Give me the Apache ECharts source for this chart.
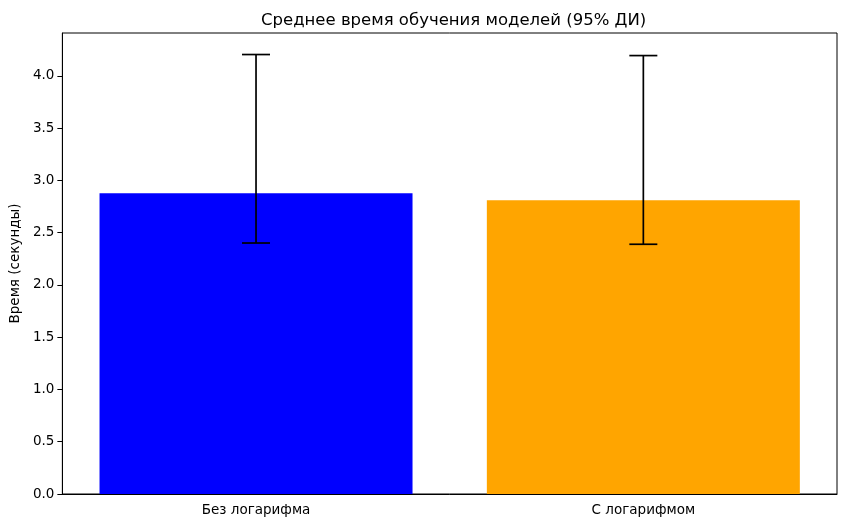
<!DOCTYPE html>
<html>
<head>
<meta charset="utf-8">
<script src="https://cdn.jsdelivr.net/npm/echarts@6/dist/echarts.min.js"></script>
<style>
  html, body { margin: 0; padding: 0; background: #fff; }
  #chart { width: 846px; height: 528px; }
</style>
</head>
<body>
<div id="chart"></div>
<script>
// data
var categories = ['Без логарифма', 'С логарифмом'];
var meanTime = [2.876, 2.809];
var ciLow = [2.401, 2.389];
var ciHigh = [4.204, 4.194];
var barColors = ['#0000ff', '#ffa500'];
var yTicks = [0, 0.5, 1.0, 1.5, 2.0, 2.5, 3.0, 3.5, 4.0];

var font = 'DejaVu Sans';
var myChart = echarts.init(document.getElementById('chart'), null, {renderer: 'canvas'});

var errData = [];
for (var i = 0; i < categories.length; i++) {
    errData.push([i, ciLow[i], ciHigh[i]]);
}

var option = {
    animation: false,
    backgroundColor: '#fff',
    title: {
        // centred over the plot area, not the whole canvas
        text: 'Среднее время обучения моделей (95% ДИ)',
        left: 256,
        top: 7,
        textStyle: {fontFamily: font, fontSize: 16.5, fontWeight: 'normal', color: '#000'}
    },
    grid: {
        left: 61, right: 9, top: 33, bottom: 34,
        show: true, borderColor: '#000', borderWidth: 1, backgroundColor: 'transparent'
    },
    xAxis: {
        type: 'category',
        data: categories,
        axisLine: {lineStyle: {color: '#000', width: 1}},
        axisTick: {alignWithLabel: true, length: 5, lineStyle: {color: '#000'}},
        axisLabel: {fontFamily: font, fontSize: 13.5, color: '#000', margin: 9}
    },
    yAxis: {
        type: 'value',
        min: 0,
        max: 4.41,
        name: 'Время (секунды)',
        nameLocation: 'middle',
        nameGap: 37,
        nameTextStyle: {fontFamily: font, fontSize: 13.5, color: '#000'},
        splitLine: {show: false},
        axisLine: {show: true, lineStyle: {color: '#000', width: 1}},
        axisTick: {show: true, length: 5, customValues: yTicks, lineStyle: {color: '#000'}},
        axisLabel: {
            fontFamily: font, fontSize: 13.5, color: '#000', margin: 8,
            customValues: yTicks,
            formatter: function (v) { return v.toFixed(1); }
        }
    },
    series: [
        {
            type: 'bar',
            barWidth: 313,
            data: meanTime.map(function (v, i) {
                return {value: v, itemStyle: {color: barColors[i]}};
            })
        },
        {
            type: 'custom',
            data: errData,
            z: 10,
            renderItem: function (params, api) {
                var idx = api.value(0);
                var lo = api.coord([idx, api.value(1)]);
                var hi = api.coord([idx, api.value(2)]);
                var cap = 14;
                var style = {stroke: '#000', lineWidth: 1.7};
                return {
                    type: 'group',
                    children: [
                        {type: 'line', shape: {x1: hi[0], y1: hi[1], x2: lo[0], y2: lo[1]}, style: style},
                        {type: 'line', shape: {x1: hi[0] - cap, y1: hi[1], x2: hi[0] + cap, y2: hi[1]}, style: style},
                        {type: 'line', shape: {x1: lo[0] - cap, y1: lo[1], x2: lo[0] + cap, y2: lo[1]}, style: style}
                    ]
                };
            }
        }
    ]
};
myChart.setOption(option);
</script>
</body>
</html>
